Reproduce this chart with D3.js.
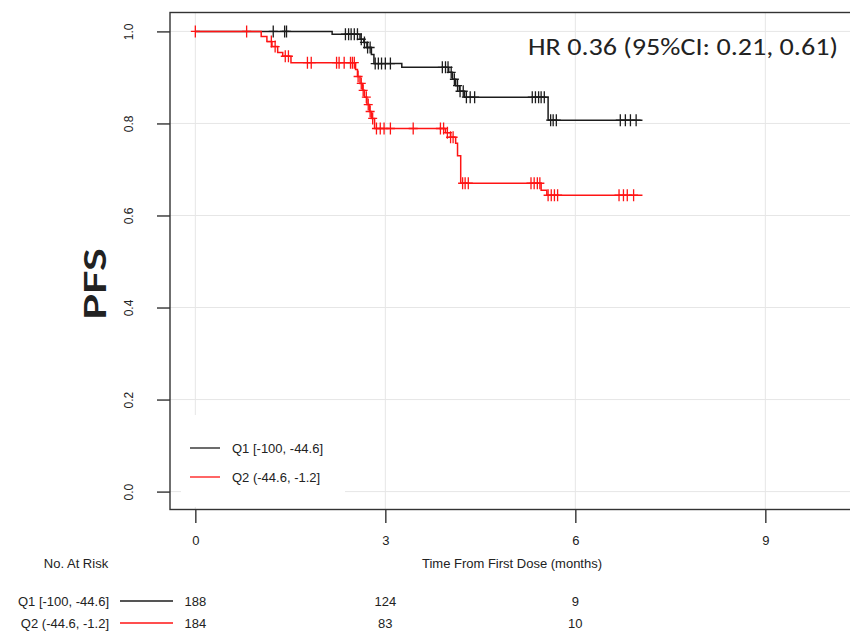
<!DOCTYPE html>
<html>
<head>
<meta charset="utf-8">
<script src="https://cdn.jsdelivr.net/npm/d3@7"></script>
<style>
  html, body { margin: 0; padding: 0; background: #fff; }
  svg { display: block; }
  text { font-family: "Liberation Sans", Arial, sans-serif; fill: #222; }
</style>
</head>
<body>
<svg id="chart" width="850" height="632"></svg>
<script>
// Axis ticks
const timeTicks = [0, 3, 6, 9];
const survTicks = [0, 0.2, 0.4, 0.6, 0.8, 1.0];

// Groups
const groupLabels = ["Q1 [-100, -44.6]", "Q2 (-44.6, -1.2]"];
const groupColors = ["#1c1c1c", "#ff1414"];

// Q1: Kaplan-Meier event steps (months, survival after the event) and censored times
const q1EventTimes = [2.16, 2.60, 2.66, 2.71, 2.78, 2.82, 3.26, 4.00, 4.06, 4.11, 4.17, 4.25, 5.57];
const q1EventSurv  = [0.994, 0.983, 0.976, 0.965, 0.950, 0.930, 0.922, 0.911, 0.896, 0.882, 0.870, 0.857, 0.807];
const q1CensorTimes = [1.23, 1.41, 1.44, 2.37, 2.42, 2.46, 2.51, 2.56, 2.62, 2.67, 2.72, 2.76,
  2.84, 2.89, 2.94, 3.00, 3.08, 3.90, 3.95, 3.99, 4.04, 4.09, 4.14, 4.18, 4.23, 4.28, 4.34, 4.41,
  5.32, 5.37, 5.42, 5.46, 5.51, 5.61, 5.65, 5.70, 6.71, 6.79, 6.87, 6.96];

// Q2: Kaplan-Meier event steps and censored times
const q2EventTimes = [1.04, 1.13, 1.21, 1.30, 1.38, 1.51, 2.53, 2.56, 2.60, 2.64, 2.67, 2.71, 2.75,
  2.78, 2.83, 3.95, 4.03, 4.11, 4.14, 4.19, 5.46, 5.55];
const q2EventSurv  = [0.989, 0.978, 0.967, 0.954, 0.946, 0.932, 0.917, 0.902, 0.887, 0.872, 0.857, 0.841, 0.826,
  0.811, 0.789, 0.780, 0.770, 0.757, 0.730, 0.670, 0.655, 0.644];
const q2CensorTimes = [0.00, 0.81, 1.20, 1.26, 1.42, 1.47, 1.77, 1.83, 2.23, 2.27, 2.35, 2.45, 2.48, 2.51,
  2.57, 2.62, 2.65, 2.70, 2.73, 2.76, 2.80, 2.86, 2.92, 2.98, 3.08, 3.44, 3.87, 3.92, 3.98, 4.03, 4.07,
  4.22, 4.26, 4.31, 5.30, 5.35, 5.40, 5.44, 5.57, 5.62, 5.67, 5.72, 6.69, 6.76, 6.82, 6.92];

const lastFollowUp = [7.06, 7.06];

// Numbers at risk
const atRiskTimes = [0, 3, 6];
const q1AtRisk = [188, 124, 9];
const q2AtRisk = [184, 83, 10];

const hrText = "HR 0.36 (95%CI: 0.21, 0.61)";

const svg = d3.select("#chart");

// Plot region (R-style 4% padding around the data range)
const x = d3.scaleLinear().domain([-0.4, 10.4]).range([170, 854]);
const y = d3.scaleLinear().domain([-0.04, 1.04]).range([510, 13]);

// Grid
const grid = svg.append("g").attr("stroke", "#e6e6e6").attr("stroke-width", 1);
grid.selectAll("line.h").data(survTicks).join("line")
  .attr("x1", 170).attr("x2", 850)
  .attr("y1", d => y(d)).attr("y2", d => y(d));
grid.selectAll("line.v").data(timeTicks).join("line")
  .attr("y1", 13).attr("y2", 510)
  .attr("x1", d => x(d)).attr("x2", d => x(d));

// Plot frame
svg.append("rect")
  .attr("x", 170).attr("y", 12.5).attr("width", 700).attr("height", 497)
  .attr("fill", "none").attr("stroke", "#333").attr("stroke-width", 1.4);

// Y axis
const yAxis = svg.append("g").attr("transform", "translate(170,0)")
  .call(d3.axisLeft(y).tickValues(survTicks).tickSize(13).tickFormat(d3.format(".1f")));
yAxis.select(".domain").remove();
yAxis.selectAll(".tick line").attr("stroke", "#333").attr("stroke-width", 1.4);
yAxis.selectAll(".tick text")
  .attr("transform", "rotate(-90)")
  .attr("x", 0).attr("y", -41).attr("dy", "0.35em")
  .attr("text-anchor", "middle")
  .style("font-size", "12px").style("font-family", "\"Liberation Sans\", Arial, sans-serif")
  .attr("fill", "#333");

// X axis
const xAxis = svg.append("g").attr("transform", "translate(0,510)")
  .call(d3.axisBottom(x).tickValues(timeTicks).tickSize(13).tickFormat(d3.format("d")));
xAxis.select(".domain").remove();
xAxis.selectAll(".tick line").attr("stroke", "#333").attr("stroke-width", 1.4);
xAxis.selectAll(".tick text")
  .attr("y", 26).attr("dy", "0.71em")
  .style("font-size", "13px").style("font-family", "\"Liberation Sans\", Arial, sans-serif")
  .attr("fill", "#333");

// Axis titles
svg.append("text").attr("x", 512).attr("y", 568).attr("text-anchor", "middle")
  .style("font-size", "13px").text("Time From First Dose (months)");
svg.append("text")
  .attr("transform", "translate(95,284) rotate(-90)")
  .attr("text-anchor", "middle").attr("dy", "0.35em")
  .attr("textLength", 72).attr("lengthAdjust", "spacingAndGlyphs")
  .style("font-family", "Lato, \"Open Sans\", sans-serif")
  .style("font-weight", "bold").style("font-size", "30px").attr("fill", "#222")
  .text("PFS");

// Hazard ratio annotation
svg.append("text").attr("x", 528).attr("y", 55)
  .attr("textLength", 310).attr("lengthAdjust", "spacingAndGlyphs")
  .style("font-family", "Carlito, Lato, \"Open Sans\", sans-serif")
  .style("font-size", "24px").attr("fill", "#222")
  .text(hrText);

// Survival curves
const groups = [
  { times: q1EventTimes, surv: q1EventSurv, censor: q1CensorTimes, end: lastFollowUp[0], color: groupColors[0] },
  { times: q2EventTimes, surv: q2EventSurv, censor: q2CensorTimes, end: lastFollowUp[1], color: groupColors[1] }
];

function survAt(g, t) {
  let s = 1;
  for (let i = 0; i < g.times.length; i++) {
    if (g.times[i] <= t) s = g.surv[i];
  }
  return s;
}

const stepLine = d3.line().x(d => x(d[0])).y(d => y(d[1])).curve(d3.curveStepAfter);

groups.forEach(g => {
  const pts = [[0, 1]];
  g.times.forEach((t, i) => pts.push([t, g.surv[i]]));
  pts.push([g.end, g.surv[g.surv.length - 1]]);
  svg.append("path").attr("d", stepLine(pts))
    .attr("fill", "none").attr("stroke", g.color).attr("stroke-width", 1.5);

  svg.append("g").selectAll("path").data(g.censor).join("path")
    .attr("d", t => {
      const cx = x(t), cy = y(survAt(g, t));
      return `M${cx - 4.5},${cy}H${cx + 4.5}M${cx},${cy - 6}V${cy + 6}`;
    })
    .attr("fill", "none").attr("stroke", g.color).attr("stroke-width", 1.3);
});

// Legend
const legend = svg.append("g");
legend.append("rect").attr("x", 181).attr("y", 415).attr("width", 164).attr("height", 92)
  .attr("fill", "#fff");
groupLabels.forEach((lab, i) => {
  const ly = 448 + i * 29;
  legend.append("line").attr("x1", 190).attr("x2", 220).attr("y1", ly).attr("y2", ly)
    .attr("stroke", groupColors[i]).attr("stroke-width", 1.3);
  legend.append("text").attr("x", 232).attr("y", ly + 4.5)
    .style("font-size", "13px").text(lab);
});

// Numbers at risk table
svg.append("text").attr("x", 76).attr("y", 568).attr("text-anchor", "middle")
  .style("font-size", "13px").text("No. At Risk");
const riskRows = [q1AtRisk, q2AtRisk];
riskRows.forEach((row, i) => {
  const ry = 601 + i * 22;
  svg.append("text").attr("x", 109).attr("y", ry + 4.5).attr("text-anchor", "end")
    .style("font-size", "13px").text(groupLabels[i]);
  svg.append("line").attr("x1", 120).attr("x2", 173).attr("y1", ry).attr("y2", ry)
    .attr("stroke", groupColors[i]).attr("stroke-width", 1.3);
  svg.append("g").selectAll("text").data(row).join("text")
    .attr("x", (d, j) => x(atRiskTimes[j])).attr("y", ry + 4.5)
    .attr("text-anchor", "middle").style("font-size", "13px")
    .text(d => d);
});
</script>
</body>
</html>
